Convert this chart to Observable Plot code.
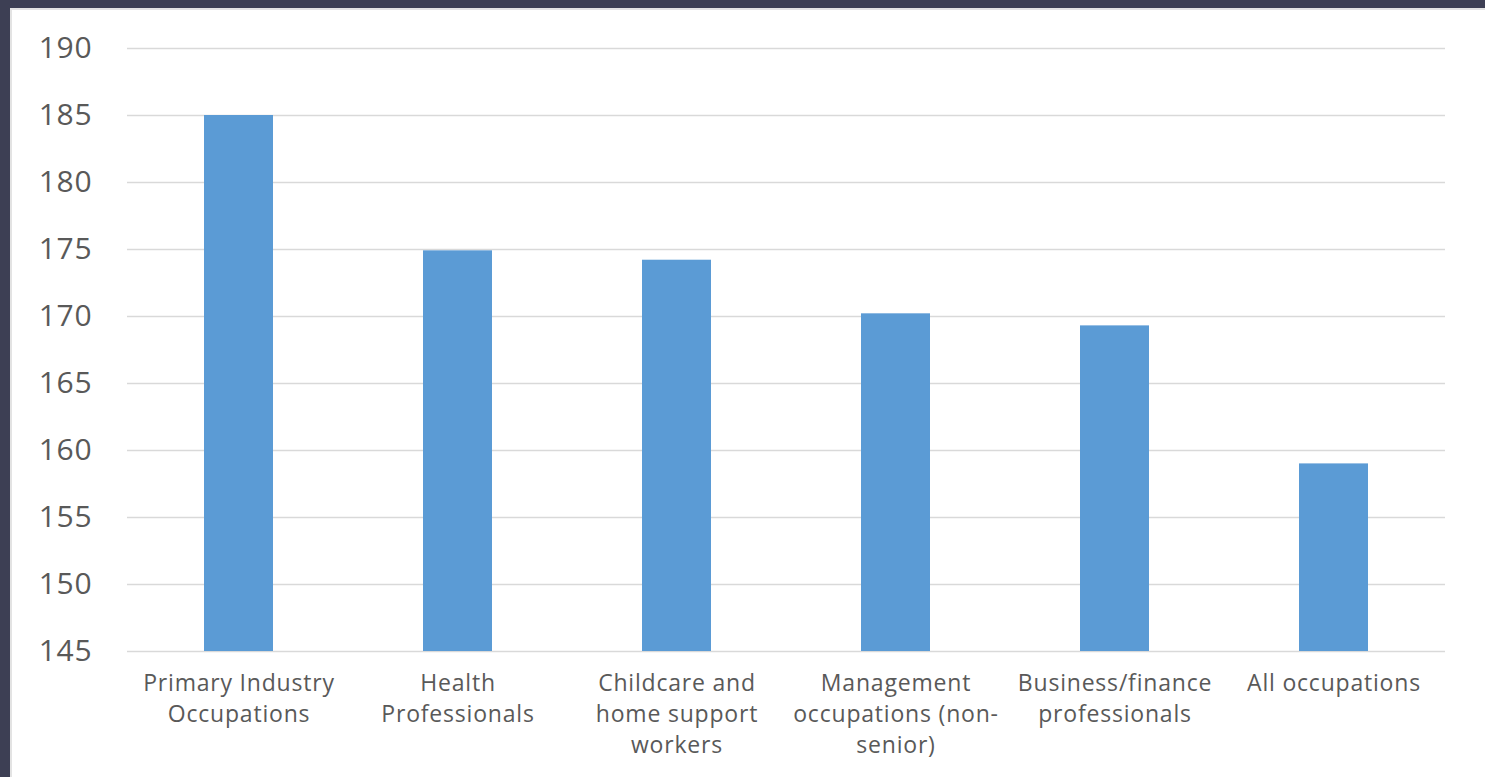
<!DOCTYPE html>
<html>
<head>
<meta charset="utf-8">
<script src="https://cdn.jsdelivr.net/npm/d3@7"></script>
<script src="https://cdn.jsdelivr.net/npm/@observablehq/plot@0.6"></script>
<style>
  html, body { margin: 0; padding: 0; background: #3d3f54; width: 1485px; height: 777px; overflow: hidden; }
  #panel { position: absolute; left: 10px; top: 8px; width: 1475px; height: 769px; background: #fff; border-left: 2px solid #e3e3e3; border-top: 2px solid #e3e3e3; box-sizing: border-box; }
  #chart { position: absolute; left: -2px; top: -2px; }
</style>
</head>
<body>
<div id="panel"><div id="chart"></div></div>
<script>
const categories = [
  "Primary Industry\nOccupations",
  "Health\nProfessionals",
  "Childcare and\nhome support\nworkers",
  "Management\noccupations (non-\nsenior)",
  "Business/finance\nprofessionals",
  "All occupations"
];
const values = [185.0, 174.9, 174.2, 170.2, 169.3, 159.0];
const yTicks = [145, 150, 155, 160, 165, 170, 175, 180, 185, 190];
const baseline = 145;

const data = categories.map((c, i) => ({category: c, value: values[i]}));

const chart = Plot.plot({
  width: 1475,
  height: 769,
  marginLeft: 117,
  marginRight: 40,
  marginTop: 40,
  marginBottom: 126,
  style: {background: "transparent", color: "#595959"},
  x: {domain: categories, paddingInner: 0.686, paddingOuter: 0.343, label: null},
  y: {domain: [145, 190], ticks: yTicks, label: null},
  marks: [
    Plot.gridY(yTicks, {stroke: "#d9d9d9", strokeOpacity: 1, strokeWidth: 1.5}),
    Plot.barY(data, {x: "category", y1: () => baseline, y2: "value", fill: "#5b9bd5"}),
    Plot.axisY(yTicks, {tickSize: 0, tickPadding: 35, fontSize: 30, fontFamily: "Open Sans", fill: "#595959", label: null}),
    Plot.axisX({tickSize: 0, tickPadding: 17, fontSize: 23, fontFamily: "Open Sans", fill: "#595959", lineHeight: 1.35, label: null, lineWidth: 100})
  ]
});
document.getElementById("chart").appendChild(chart);
d3.select(chart).selectAll("text").style("letter-spacing", "0.8px");
</script>
</body>
</html>
